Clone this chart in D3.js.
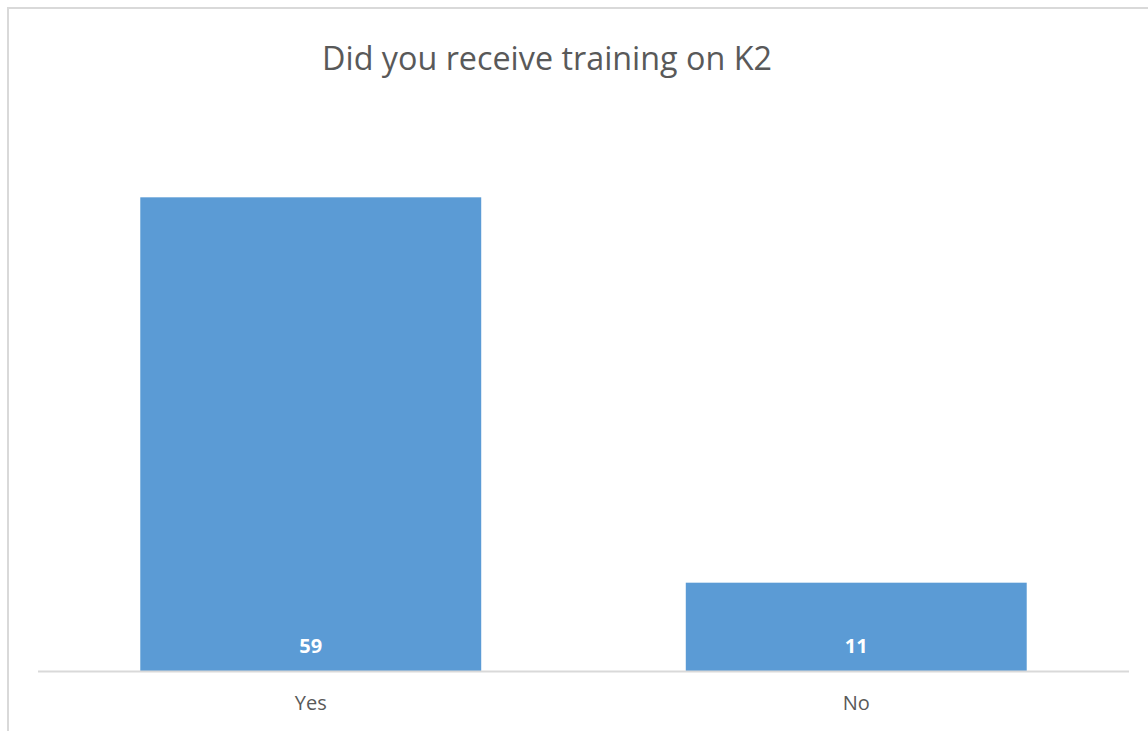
<!DOCTYPE html>
<html lang="en">
<head>
    <meta charset="UTF-8">
    <title>Did you receive training on K2</title>
    <script src="https://d3js.org/d3.v7.min.js"></script>
    <style>
        body { margin: 0; background: #fff; }
        svg { display: block; font-family: "Open Sans", "Noto Sans", sans-serif; }
        .cat { fill: #595959; font-size: 20px; }
        .val { fill: #fff; font-size: 20px; font-weight: bold; }
        .title { fill: #595959; }
    </style>
</head>
<body>
    <svg class="chart"></svg>
    <script>
        // chart data
        var categories = ['Yes', 'No'];
        var counts = [59, 11];
        var titleText = 'Did you receive training on K2';

        var width = 1148, height = 731;
        var svg = d3.select('.chart')
                    .attr('width', width)
                    .attr('height', height);

        // outer chart frame (cut off on right / bottom like the screenshot)
        svg.append('rect')
           .attr('x', 8).attr('y', 8)
           .attr('width', width + 20).attr('height', height + 20)
           .attr('fill', 'none')
           .attr('stroke', '#D9D9D9')
           .attr('stroke-width', 2);

        // plot area
        var plot = { left: 38, right: 1129, top: 109, bottom: 671 };

        var x = d3.scaleBand()
                  .domain(categories)
                  .range([plot.left, plot.right])
                  .paddingInner(0.375)
                  .paddingOuter(0.1875);

        var y = d3.scaleLinear()
                  .domain([0, 70])
                  .range([plot.bottom, plot.top]);

        // bars
        svg.selectAll('.bar')
           .data(counts)
           .enter().append('rect')
           .attr('class', 'bar')
           .attr('x', (d, i) => x(categories[i]))
           .attr('y', d => y(d))
           .attr('width', x.bandwidth())
           .attr('height', d => y(0) - y(d))
           .attr('fill', '#5B9BD5');

        // axis line
        svg.append('line')
           .attr('x1', plot.left).attr('x2', plot.right)
           .attr('y1', y(0) + 0.5).attr('y2', y(0) + 0.5)
           .attr('stroke', '#D9D9D9')
           .attr('stroke-width', 2);

        // value labels at the bar base
        svg.selectAll('.val')
           .data(counts)
           .enter().append('text')
           .attr('class', 'val')
           .attr('x', (d, i) => x(categories[i]) + x.bandwidth() / 2)
           .attr('y', y(0) - 18)
           .attr('text-anchor', 'middle')
           .text(d => d);

        // category labels
        var xAxis = d3.axisBottom(x).tickSize(0).tickPadding(0);
        var axisG = svg.append('g')
           .attr('transform', 'translate(0,' + y(0) + ')')
           .call(xAxis)
           .attr('font-family', null)
           .attr('font-size', null);
        axisG.select('.domain').remove();
        axisG.selectAll('text')
           .attr('class', 'cat')
           .attr('dy', null)
           .attr('y', 39)
           .attr('fill', null);

        // title, sized to the reference width
        var title = svg.append('text')
           .attr('class', 'title')
           .attr('x', 547)
           .attr('y', 70)
           .attr('text-anchor', 'middle')
           .style('font-size', '32px')
           .text(titleText);
        var w = title.node().getComputedTextLength();
        title.style('font-size', (32 * 450 / w) + 'px');
    </script>
</body>
</html>
